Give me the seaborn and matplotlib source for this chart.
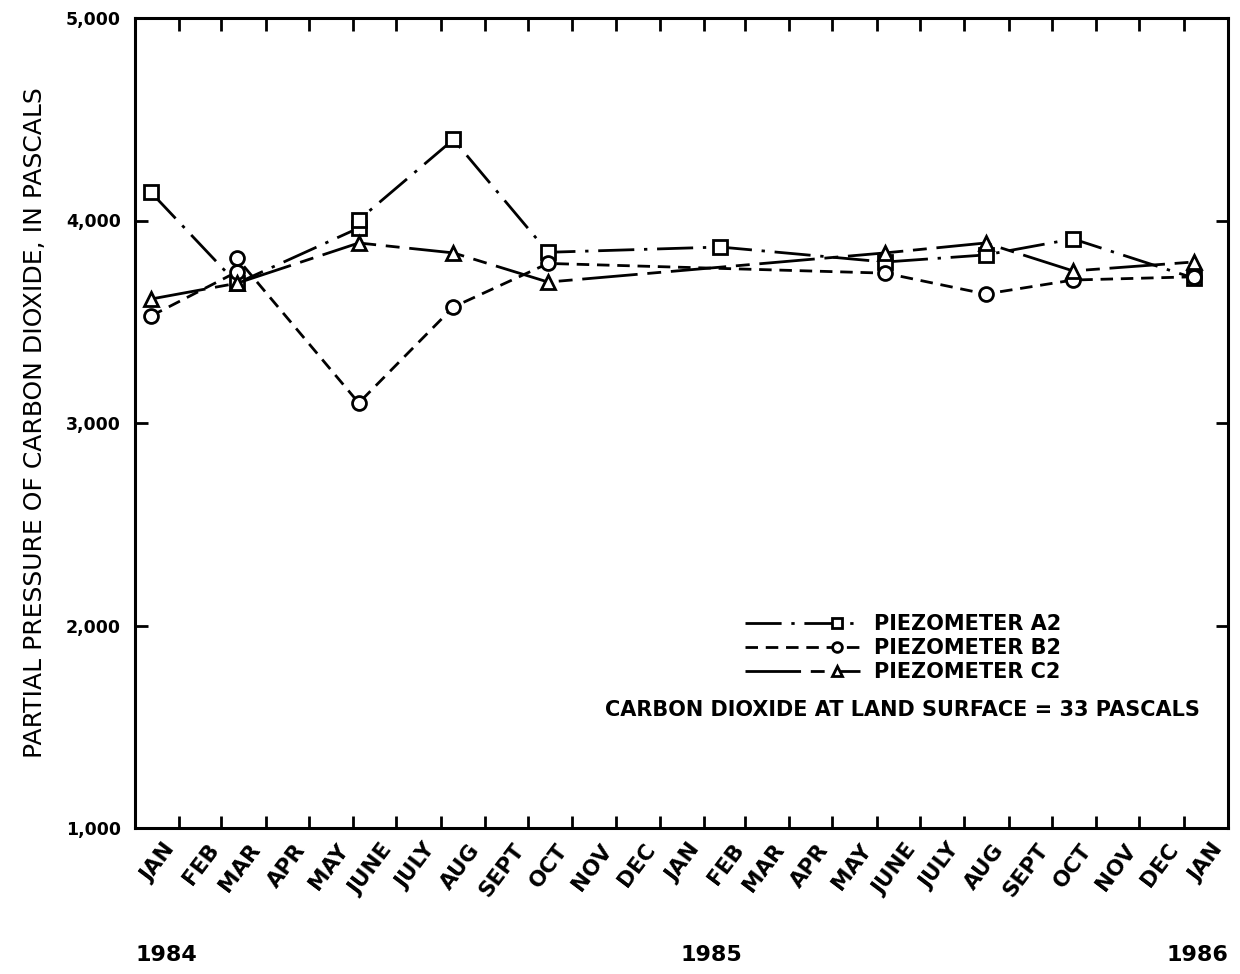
import numpy as np
import pandas as pd
import matplotlib
matplotlib.use('Agg')
import matplotlib.pyplot as plt
import matplotlib.transforms as mtransforms
from matplotlib.lines import Line2D
from matplotlib.legend_handler import HandlerLine2D
import seaborn as sns

# ---------------- data ----------------
a2_dates = ['1984-01-12', '1984-03-12', '1984-06-05', '1984-06-05', '1984-08-10',
            '1984-10-15', '1985-02-12', '1985-06-07', '1985-08-16', '1985-10-16',
            '1986-01-08']
a2_vals = [4140, 3690, 3963, 4003, 4400, 3843, 3869, 3795, 3830, 3909, 3716]

b2_dates = ['1984-01-12', '1984-03-12', '1984-03-12', '1984-06-05', '1984-08-10',
            '1984-10-15', '1985-06-07', '1985-08-16', '1985-10-16', '1986-01-08']
b2_vals = [3528, 3746, 3815, 3099, 3573, 3788, 3740, 3637, 3706, 3722]

c2_dates = ['1984-01-12', '1984-03-12', '1984-06-05', '1984-08-10', '1984-10-15',
            '1985-06-07', '1985-08-16', '1985-10-16', '1986-01-08']
c2_vals = [3612, 3690, 3889, 3840, 3696, 3840, 3889, 3751, 3795]

series_names = ['PIEZOMETER A2', 'PIEZOMETER B2', 'PIEZOMETER C2']
month_labels = ['JAN', 'FEB', 'MAR', 'APR', 'MAY', 'JUNE', 'JULY', 'AUG', 'SEPT',
                'OCT', 'NOV', 'DEC'] * 2 + ['JAN']
year_labels = ['1984', '1985', '1986']
y_ticks = [1000, 2000, 3000, 4000, 5000]
y_tick_labels = ['1,000', '2,000', '3,000', '4,000', '5,000']
y_label = 'PARTIAL PRESSURE OF CARBON DIOXIDE, IN PASCALS'
note = 'CARBON DIOXIDE AT LAND SURFACE = 33 PASCALS'

# ---------------- styling ----------------
sns.set_style('ticks')
plt.rcParams['font.family'] = ['DejaVu Sans']
for k in ['text.color', 'axes.labelcolor', 'xtick.color', 'ytick.color', 'axes.edgecolor']:
    plt.rcParams[k] = 'black'

fig = plt.figure(figsize=(12.4, 9.74), dpi=100)
ax = fig.add_axes([135 / 1240, 1 - 828 / 974, (1228 - 135) / 1240, (828 - 18) / 974])

styles = [
    dict(marker='s', linestyle=(0, (13, 3.5, 1.2, 3.5)), markersize=10),
    dict(marker='o', linestyle=(0, (4.5, 2.8)), markersize=10),
    dict(marker='^', linestyle=(0, (20, 3.5, 5, 3.5)), markersize=10),
]
datasets = [(a2_dates, a2_vals), (b2_dates, b2_vals), (c2_dates, c2_vals)]
for (d, v), st in zip(datasets, styles):
    df = pd.DataFrame({'date': pd.to_datetime(d), 'value': v})
    sns.lineplot(data=df, x='date', y='value', ax=ax, sort=False, estimator=None,
                 color='black', linewidth=2.0, marker=st['marker'],
                 markersize=st['markersize'], markerfacecolor='white',
                 markeredgecolor='black', markeredgewidth=2.0,
                 linestyle=st['linestyle'])

x0 = pd.Timestamp('1984-01-01')
x1 = pd.Timestamp('1986-02-01')
ax.set_xlim(x0, x1)
ax.set_ylim(1000, 5000)

# x ticks: month boundaries as ticks, labels at mid-month
month_starts = pd.date_range('1984-02-01', '1986-01-01', freq='MS')
mids = pd.date_range('1984-01-01', '1986-01-01', freq='MS') + pd.Timedelta(days=15)
ax.set_xticks(month_starts)
ax.set_xticklabels([])
ax.set_xticks(mids, minor=True)
ax.set_xticklabels(month_labels, minor=True, rotation=53, ha='right', va='center',
                   rotation_mode='anchor', fontsize=15.5, fontweight='bold')
ax.tick_params(axis='x', which='minor', length=0, pad=13)
ax.tick_params(axis='x', which='major', direction='in', length=9, width=2,
               top=True, bottom=True)
offset = mtransforms.ScaledTranslation(14 / 100, 0, fig.dpi_scale_trans)
for lab in ax.get_xticklabels(minor=True):
    lab.set_transform(lab.get_transform() + offset)

ax.set_yticks(y_ticks)
ax.set_yticklabels(y_tick_labels, fontsize=12.5, fontweight='bold')
ax.tick_params(axis='y', which='major', direction='in', length=9, width=2,
               left=True, right=True, pad=10)
ax.set_ylabel(y_label, fontsize=18, labelpad=14)
ax.set_xlabel('')

for sp in ax.spines.values():
    sp.set_visible(True)
    sp.set_linewidth(2.2)
    sp.set_color('black')

# year labels
blend = mtransforms.blended_transform_factory(ax.transData, fig.transFigure)
ax.text(x0, 1 - 955 / 974, year_labels[0], transform=blend, ha='left', va='center',
        fontsize=16, fontweight='bold')
ax.text(pd.Timestamp('1985-01-15'), 1 - 955 / 974, year_labels[1], transform=blend,
        ha='left', va='center', fontsize=16, fontweight='bold')
ax.text(x1, 1 - 955 / 974, year_labels[2], transform=blend, ha='right', va='center',
        fontsize=16, fontweight='bold')


# legend with marker near the right end of the handle
class RightMarkerHandler(HandlerLine2D):
    def create_artists(self, legend, orig_handle, xdescent, ydescent, width, height,
                       fontsize, trans):
        xs = -xdescent
        xdata = np.array([xs, xs + 0.8 * width, xs + width])
        y = (height - ydescent) / 2
        legline = Line2D(xdata, np.full(3, y))
        self.update_prop(legline, orig_handle, legend)
        legline.set_markevery([1])
        legline.set_transform(trans)
        return [legline]


handles = [Line2D([], [], color='black', linewidth=2.0, marker=st['marker'],
                  markersize=7, markerfacecolor='white', markeredgecolor='black',
                  markeredgewidth=2.0, linestyle=st['linestyle'])
           for st in styles]
leg = ax.legend(handles, series_names, loc='upper left',
                bbox_to_anchor=(745 / 1240, 1 - 614 / 974), bbox_transform=fig.transFigure,
                frameon=False, handlelength=5.5, handletextpad=0.7, labelspacing=0.2,
                borderpad=0, borderaxespad=0, fontsize=15, numpoints=1,
                handler_map={Line2D: RightMarkerHandler()})
for t in leg.get_texts():
    t.set_fontweight('bold')

fig.text(1200 / 1240, 1 - 710 / 974, note, ha='right', va='center', fontsize=15,
         fontweight='bold')

fig.savefig('out.png', dpi=100)
